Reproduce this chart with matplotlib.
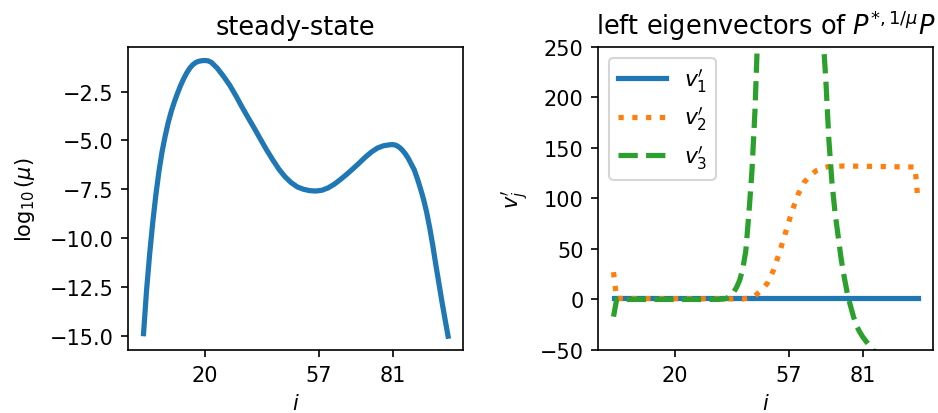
import matplotlib
matplotlib.use("Agg")
import matplotlib.pyplot as plt

# steady-state curve, log10(mu)
i_mu = [0, 1, 2, 3, 4, 5, 6, 7, 8, 9, 10, 11, 12, 13, 14, 15, 16, 17, 18,
        19, 20, 21, 22, 24, 26, 28, 30, 32, 34, 36, 38, 40, 42, 44, 46, 48,
        50, 52, 54, 56, 58, 60, 62, 64, 66, 68, 70, 72, 74, 76, 78, 80, 81,
        82, 83, 84, 85, 86, 87, 88, 89, 90, 91, 92, 93, 94, 95, 96, 97, 98,
        99]
log_mu = [-14.9, -12.65, -10.8, -9.2, -7.8, -6.6, -5.6, -4.8, -4.1, -3.52,
          -3.03, -2.6, -2.2, -1.85, -1.55, -1.3, -1.12, -1.0, -0.94, -0.91,
          -0.9, -0.92, -0.99, -1.3, -1.71, -2.16, -2.7, -3.28, -3.83, -4.37,
          -4.93, -5.48, -5.99, -6.47, -6.86, -7.16, -7.38, -7.5, -7.57,
          -7.59, -7.55, -7.43, -7.24, -7.0, -6.74, -6.46, -6.17, -5.87,
          -5.6, -5.39, -5.27, -5.22, -5.21, -5.24, -5.33, -5.47, -5.66,
          -5.9, -6.2, -6.5, -6.95, -7.45, -8.0, -8.65, -9.45, -10.35,
          -11.35, -12.3, -13.25, -14.15, -15.03]

# left eigenvectors
i_v1 = [0, 99]
v1 = [1.0, 1.0]

i_v2 = [0, 1, 42, 44, 46, 48, 50, 52, 54, 56, 58, 60, 62, 64, 66, 68, 70,
        75, 98, 99]
v2 = [27, 1, 0.5, 1.5, 3.5, 9, 16, 29, 47, 67, 87, 104, 116, 123, 127.5,
      130, 131.5, 132, 131, 97]

i_v3 = [0, 1, 34, 36, 37, 38, 39, 40, 41, 42, 43, 44, 45, 46, 47, 48, 50,
        52, 55, 57, 60, 63, 66, 67, 68, 69, 70, 71, 72, 73, 74, 75, 76, 77,
        78, 79, 80, 81, 82, 83, 84, 85, 90, 95, 99]
v3 = [-17, 0, 0, 0.5, 1.5, 3.5, 7, 12, 19, 30, 48, 85, 127, 188, 275, 390,
      700, 1100, 1600, 1800, 1700, 1200, 600, 420, 265, 218, 158, 116, 86,
      63, 40, 22, 6, -6, -17, -26, -32, -37, -41, -45, -49, -52, -64, -72,
      -78]

xticks = [20, 57, 81]
mu_yticks = [-15, -12.5, -10, -7.5, -5, -2.5]

dpi = 150
fig = plt.figure(figsize=(938 / dpi, 414 / dpi), dpi=dpi)
ax1 = fig.add_axes([128.3 / 938, 63 / 414, 335 / 938, 303.3 / 414])
ax2 = fig.add_axes([598.3 / 938, 63 / 414, 335 / 938, 303.3 / 414])

ax1.plot(i_mu, log_mu, lw=2.5)
ax1.set_title("steady-state", fontsize=12.3)
ax1.set_xlabel(r"$i$")
ax1.set_ylabel(r"$\log_{10}(\mu)$", labelpad=6)
ax1.set_xticks(xticks)
ax1.set_yticks(mu_yticks)

ax2.plot(i_v1, v1, lw=2.5, label=r"$v^{\prime}_1$")
ax2.plot(i_v2, v2, lw=2.5, ls=":", label=r"$v^{\prime}_2$")
ax2.plot(i_v3, v3, lw=2.5, ls="--", label=r"$v^{\prime}_3$")
ax2.set_xlim(ax1.get_xlim())
ax2.set_ylim(-50, 250)
ax2.set_title(r"left eigenvectors of $P^{*,1/\mu}P$", fontsize=12.3)
ax2.set_xlabel(r"$i$")
ax2.set_ylabel(r"$v^{\prime}_j$")
ax2.set_xticks(xticks)
ax2.legend(loc="upper left", fontsize=10.5, handlelength=2.2)

fig.savefig("out.png", dpi=dpi)
